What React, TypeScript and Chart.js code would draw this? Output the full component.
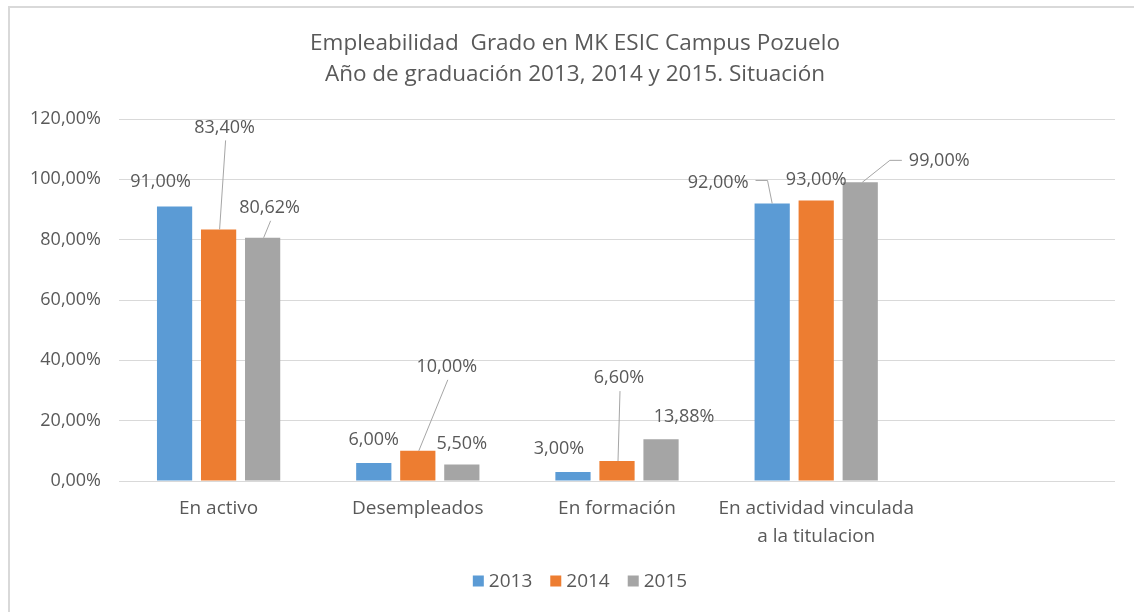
import React, { useEffect, useRef } from "react";
import { Chart, registerables } from "chart.js";

Chart.register(...registerables);

const CATEGORIES: (string | string[])[] = [
  "En activo",
  "Desempleados",
  "En formación",
  ["En actividad vinculada", "a la titulacion"],
  "",
];
const SERIES_NAMES = ["2013", "2014", "2015"];
const VALUES_2013 = [91.0, 6.0, 3.0, 92.0, null];
const VALUES_2014 = [83.4, 10.0, 6.6, 93.0, null];
const VALUES_2015 = [80.62, 5.5, 13.88, 99.0, null];
const SERIES_COLORS = ["#5B9BD5", "#ED7D31", "#A5A5A5"];
const TITLE_LINES = [
  "Empleabilidad  Grado en MK ESIC Campus Pozuelo",
  "Año de graduación 2013, 2014 y 2015. Situación",
];
const Y_MIN = 0;
const Y_MAX = 120;
const Y_STEP = 20;

// label placement relative to bar top-centre: [dx, dy, leader]
const LABEL_OFFSETS: [number, number, string][][] = [
  [[-14, -25, ""], [0, -23, ""], [-14, -23, ""], [-54, -21, "L"]],
  [[6, -102, "v"], [29, -84, "v"], [2, -83, "v"], [0, -21, ""]],
  [[7, -30, "v"], [0, -21, ""], [23, -22, ""], [79, -21, "R"]],
];

const FONT = "'Open Sans', sans-serif";
const TEXT = "#595959";

const fmt = (v: number) => v.toFixed(2).replace(".", ",") + "%";

export default function App() {
  const ref = useRef<HTMLCanvasElement | null>(null);

  useEffect(() => {
    const canvas = ref.current;
    if (!canvas) return;

    const decor = {
      id: "decor",
      beforeDraw(chart: any) {
        const ctx = chart.ctx;
        ctx.save();
        ctx.fillStyle = "#ffffff";
        ctx.fillRect(0, 0, chart.width, chart.height);
        ctx.strokeStyle = "#D9D9D9";
        ctx.lineWidth = 2;
        ctx.beginPath();
        ctx.moveTo(9, chart.height);
        ctx.lineTo(9, 7);
        ctx.lineTo(chart.width, 7);
        ctx.stroke();
        // title
        ctx.fillStyle = TEXT;
        ctx.font = `22.5px ${FONT}`;
        ctx.textAlign = "center";
        ctx.textBaseline = "middle";
        ctx.fillText(TITLE_LINES[0], 575, 44);
        ctx.fillText(TITLE_LINES[1], 575, 75);
        // legend
        ctx.font = `19px ${FONT}`;
        const box = 11;
        const gapBoxText = 5;
        const gapItems = 18;
        const widths = SERIES_NAMES.map((n) => ctx.measureText(n).width);
        const total =
          widths.reduce((a, w) => a + box + gapBoxText + w, 0) +
          gapItems * (SERIES_NAMES.length - 1);
        let x = 580 - total / 2;
        const ly = 581;
        ctx.textAlign = "left";
        SERIES_NAMES.forEach((n, i) => {
          ctx.fillStyle = SERIES_COLORS[i];
          ctx.fillRect(x, ly - box / 2, box, box);
          ctx.fillStyle = TEXT;
          ctx.fillText(n, x + box + gapBoxText, ly + 1);
          x += box + gapBoxText + widths[i] + gapItems;
        });
        ctx.restore();
      },
      afterDatasetsDraw(chart: any) {
        const ctx = chart.ctx;
        ctx.save();
        ctx.font = `18px ${FONT}`;
        ctx.textAlign = "center";
        ctx.textBaseline = "middle";
        chart.data.datasets.forEach((ds: any, di: number) => {
          const meta = chart.getDatasetMeta(di);
          meta.data.forEach((bar: any, i: number) => {
            const v = ds.data[i];
            if (v === null || v === undefined) return;
            const off = LABEL_OFFSETS[di][i];
            const bx = bar.x;
            const by = bar.y;
            const lx = bx + off[0];
            const lyy = by + off[1];
            const txt = fmt(v);
            const w = ctx.measureText(txt).width;
            ctx.strokeStyle = "#A6A6A6";
            ctx.lineWidth = 1;
            if (off[2] === "v") {
              ctx.beginPath();
              ctx.moveTo(lx + 1, lyy + 13);
              ctx.lineTo(bx + 1, by);
              ctx.stroke();
            } else if (off[2] === "L") {
              const r = lx + w / 2;
              ctx.beginPath();
              ctx.moveTo(r + 7, lyy - 2);
              ctx.lineTo(r + 19, lyy - 2);
              ctx.lineTo(bx, by);
              ctx.stroke();
            } else if (off[2] === "R") {
              const l = lx - w / 2;
              ctx.beginPath();
              ctx.moveTo(l - 7, lyy - 1);
              ctx.lineTo(l - 19, lyy - 1);
              ctx.lineTo(bx + 2, by);
              ctx.stroke();
            }
            ctx.fillStyle = TEXT;
            ctx.fillText(txt, lx, lyy);
          });
        });
        ctx.restore();
      },
    };

    const chart = new Chart(canvas, {
      type: "bar",
      data: {
        labels: CATEGORIES as any,
        datasets: [VALUES_2013, VALUES_2014, VALUES_2015].map((vals, i) => ({
          label: SERIES_NAMES[i],
          data: vals as any,
          backgroundColor: SERIES_COLORS[i],
          borderWidth: 0,
          categoryPercentage: 0.663,
          barPercentage: 0.8,
        })),
      },
      options: {
        animation: false,
        responsive: false,
        maintainAspectRatio: false,
        layout: { padding: { top: 119, right: 19, left: 0, bottom: 0 } },
        plugins: {
          legend: { display: false },
          title: { display: false },
          tooltip: { enabled: false },
        },
        scales: {
          x: {
            grid: { display: false, drawTicks: false },
            border: { display: false },
            ticks: {
              color: TEXT,
              font: { family: FONT, size: 19, lineHeight: 1.45 },
              padding: 14,
              maxRotation: 0,
              autoSkip: false,
            },
            afterFit: (s: any) => {
              s.height = 131;
            },
          },
          y: {
            min: Y_MIN,
            max: Y_MAX,
            grid: { color: "#D9D9D9", lineWidth: 1, drawTicks: false },
            border: { display: false },
            ticks: {
              stepSize: Y_STEP,
              color: TEXT,
              font: { family: FONT, size: 18 },
              padding: 18,
              callback: (v: any) => fmt(Number(v)),
            },
            afterFit: (s: any) => {
              s.width = 119;
            },
          },
        },
      },
      plugins: [decor],
    });
    return () => chart.destroy();
  }, []);

  return (
    <div style={{ position: "fixed", left: 0, top: 0, width: 1134, height: 612, background: "#fff" }}>
      <canvas ref={ref} width={1134} height={612} />
    </div>
  );
}
